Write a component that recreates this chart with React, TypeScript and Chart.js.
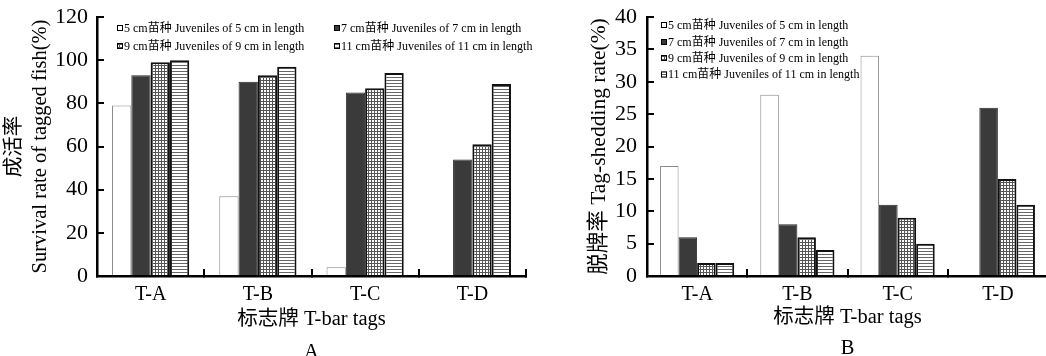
import React, { useEffect, useRef } from 'react';
import { Chart, registerables } from 'chart.js';

Chart.register(...registerables);

// ---------- data ----------
const categories = ['T-A', 'T-B', 'T-C', 'T-D'];
const seriesLabels = [
  '5 cm苗种 Juveniles of 5 cm in length',
  '7 cm苗种 Juveniles of 7 cm in length',
  '9 cm苗种 Juveniles of 9 cm in length',
  '11 cm苗种 Juveniles of 11 cm in length',
];
// Panel A: survival rate of tagged fish (%)
const survival5cm = [79, 37, 4, 0];
const survival7cm = [93, 90, 85, 54];
const survival9cm = [99, 93, 87, 61];
const survival11cm = [100, 97, 94, 89];
// Panel B: tag-shedding rate (%)
const shedding5cm = [17, 28, 34, 0];
const shedding7cm = [6, 8, 11, 26];
const shedding9cm = [2, 6, 9, 15];
const shedding11cm = [2, 4, 5, 11];
// axis ticks
const survivalTicks = [0, 20, 40, 60, 80, 100, 120];
const sheddingTicks = [0, 5, 10, 15, 20, 25, 30, 35, 40];

const SERIF = "'Liberation Serif', 'Times New Roman', 'Noto Sans CJK SC', serif";

function makeGridPattern(): CanvasPattern | string {
  const c = document.createElement('canvas');
  c.width = 3;
  c.height = 3;
  const g = c.getContext('2d');
  if (!g) return '#999';
  g.fillStyle = '#ffffff';
  g.fillRect(0, 0, 3, 3);
  g.fillStyle = '#555555';
  g.fillRect(0, 2, 3, 1);
  g.fillRect(2, 0, 1, 3);
  return g.createPattern(c, 'repeat') || '#999';
}

function makeHLinePattern(): CanvasPattern | string {
  const c = document.createElement('canvas');
  c.width = 3;
  c.height = 3;
  const g = c.getContext('2d');
  if (!g) return '#ccc';
  g.fillStyle = '#ffffff';
  g.fillRect(0, 0, 3, 3);
  g.fillStyle = '#666666';
  g.fillRect(0, 2, 3, 1);
  return g.createPattern(c, 'repeat') || '#ccc';
}

const cornerLegend = {
  id: 'cornerLegend',
  afterDraw(chart: any, _args: any, opts: any) {
    const { ctx, chartArea } = chart;
    const positions: number[][] = opts.positions || [];
    ctx.save();
    ctx.font = `12px ${SERIF}`;
    ctx.textBaseline = 'middle';
    ctx.textAlign = 'left';
    chart.data.datasets.forEach((ds: any, i: number) => {
      const p = positions[i];
      if (!p) return;
      const x = chartArea.left + p[0];
      const y = chartArea.top + p[1];
      ctx.fillStyle = ds.backgroundColor;
      ctx.fillRect(x, y - 3, 6, 6);
      ctx.strokeStyle = '#000';
      ctx.lineWidth = 1;
      ctx.strokeRect(x + 0.5, y - 2.5, 5, 5);
      ctx.fillStyle = '#000';
      ctx.fillText(ds.label, x + 7, y + 0.5);
    });
    ctx.restore();
  },
};

interface PanelSpec {
  series: number[][];
  ticks: number[];
  yTitle: string | string[];
  yTitleSize: number;
  yTitlePad: number;
  yTickPad: number;
  yWidth: number;
  rightPad: number;
  catPct: number;
  xTitle: string[];
  xTitleLineHeight: number;
  xTitlePadBottom: number;
  legendPositions: number[][];
}

function buildConfig(spec: PanelSpec): any {
  const grid = makeGridPattern();
  const hline = makeHLinePattern();
  const styles = [
    { backgroundColor: '#ffffff', borderColor: '#8a8a8a', borderWidth: 1 },
    { backgroundColor: '#3a3a3a', borderColor: '#2a2a2a', borderWidth: 1 },
    { backgroundColor: grid, borderColor: '#111111', borderWidth: 2 },
    { backgroundColor: hline, borderColor: '#111111', borderWidth: 2 },
  ];
  const ticks = spec.ticks;
  return {
    type: 'bar',
    data: {
      labels: categories,
      datasets: spec.series.map((data, i) => ({
        label: seriesLabels[i],
        data,
        ...styles[i],
        barPercentage: 1,
        categoryPercentage: spec.catPct,
      })),
    },
    options: {
      responsive: false,
      animation: false,
      layout: { padding: { left: 0, top: 17, right: spec.rightPad, bottom: 0 } },
      plugins: {
        legend: { display: false },
        tooltip: { enabled: false },
        cornerLegend: { positions: spec.legendPositions },
      },
      scales: {
        x: {
          grid: {
            display: true,
            drawOnChartArea: false,
            drawTicks: true,
            tickLength: -7,
            color: '#000',
            lineWidth: 2,
            offset: true,
          },
          border: { display: true, color: '#000', width: 2.5 },
          ticks: {
            color: '#000',
            font: { family: SERIF, size: 20 },
            padding: 14,
          },
          title: {
            display: true,
            text: spec.xTitle,
            color: '#000',
            font: { family: SERIF, size: 20.5, lineHeight: spec.xTitleLineHeight },
            padding: { top: 0, bottom: spec.xTitlePadBottom },
          },
          afterFit(scale: any) {
            scale.height = 80;
            scale.paddingLeft = 0;
            scale.paddingRight = 0;
          },
        },
        y: {
          min: ticks[0],
          max: ticks[ticks.length - 1],
          afterBuildTicks(scale: any) {
            scale.ticks = ticks.map((v) => ({ value: v }));
          },
          grid: {
            display: true,
            drawOnChartArea: false,
            drawTicks: true,
            tickLength: -7,
            color: '#000',
            lineWidth: 2,
          },
          border: { display: true, color: '#000', width: 2.5 },
          ticks: {
            color: '#000',
            font: { family: SERIF, size: 22 },
            padding: spec.yTickPad,
          },
          title: {
            display: true,
            text: spec.yTitle,
            color: '#000',
            font: { family: SERIF, size: spec.yTitleSize, lineHeight: 1.3 },
            padding: { top: spec.yTitlePad, bottom: 0 },
          },
          afterFit(scale: any) {
            scale.width = spec.yWidth;
            scale.paddingTop = 0;
            scale.paddingBottom = 0;
          },
        },
      },
    },
    plugins: [cornerLegend],
  };
}

const panelA: PanelSpec = {
  series: [survival5cm, survival7cm, survival9cm, survival11cm],
  ticks: survivalTicks,
  yTitle: ['成活率', 'Survival rate of tagged fish(%)'],
  yTitleSize: 20.5,
  yTitlePad: 1,
  yTickPad: 16,
  yWidth: 97,
  rightPad: 20,
  catPct: 0.72,
  xTitle: ['标志牌 T-bar tags', 'A'],
  xTitleLineHeight: 1.6,
  xTitlePadBottom: -13,
  legendPositions: [
    [20, 11],
    [237, 11],
    [20, 29],
    [237, 29],
  ],
};

const panelB: PanelSpec = {
  series: [shedding5cm, shedding7cm, shedding9cm, shedding11cm],
  ticks: sheddingTicks,
  yTitle: '脱牌率 Tag-shedding rate(%)',
  yTitleSize: 21.5,
  yTitlePad: 25,
  yTickPad: 17,
  yWidth: 87,
  rightPad: 2,
  catPct: 0.74,
  xTitle: ['标志牌 T-bar tags', 'B'],
  xTitleLineHeight: 1.5,
  xTitlePadBottom: -8,
  legendPositions: [
    [14, 8],
    [14, 25],
    [14, 41],
    [14, 57.5],
  ],
};

function Panel({ spec, left, width }: { spec: PanelSpec; left: number; width: number }) {
  const ref = useRef<HTMLCanvasElement | null>(null);
  useEffect(() => {
    if (!ref.current) return;
    const chart = new Chart(ref.current, buildConfig(spec));
    return () => chart.destroy();
  }, [spec]);
  return (
    <canvas
      ref={ref}
      width={width}
      height={356}
      style={{ position: 'absolute', left, top: 0, width, height: 356 }}
    />
  );
}

export default function App() {
  return (
    <div
      style={{
        position: 'absolute',
        left: 0,
        top: 0,
        width: 1046,
        height: 356,
        overflow: 'hidden',
        background: '#fff',
      }}
    >
      <Panel spec={panelA} left={0} width={546} />
      <Panel spec={panelB} left={560} width={490} />
    </div>
  );
}
